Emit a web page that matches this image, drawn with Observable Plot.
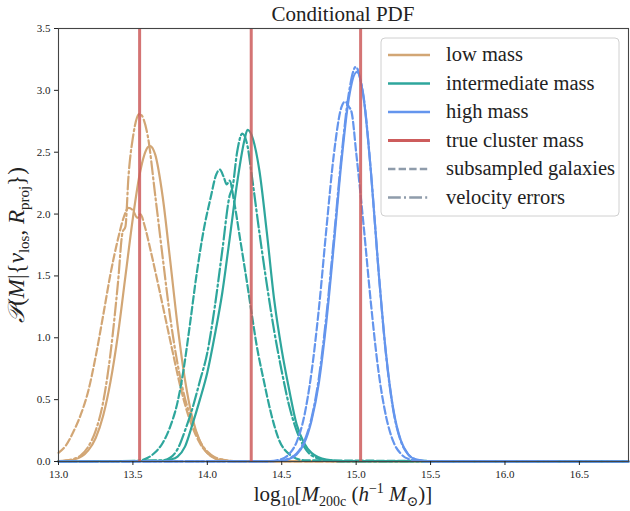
<!DOCTYPE html>
<html>
<head>
<meta charset="utf-8">
<script src="https://cdn.jsdelivr.net/npm/d3@7"></script>
<script src="https://cdn.jsdelivr.net/npm/@observablehq/plot@0.6"></script>
<style>
  html, body { margin: 0; padding: 0; background: white; }
  #chart { width: 630px; height: 511px; }
</style>
</head>
<body>
<div id="chart"></div>
<script>
// ---- data ----
const xTicks = [13.0, 13.5, 14.0, 14.5, 15.0, 15.5, 16.0, 16.5];
const yTicks = [0.0, 0.5, 1.0, 1.5, 2.0, 2.5, 3.0, 3.5];
const trueMass = [13.545, 14.295, 15.03];

const seriesNames = ["low mass", "intermediate mass", "high mass"];
const styleNames = ["true cluster mass", "subsampled galaxies", "velocity errors"];

// low mass
const lowSolid = [[13.0,0.002],[13.1,0.014],[13.2,0.09],[13.25,0.19],[13.3,0.37],[13.35,0.65],[13.4,1.03],[13.45,1.5],[13.5,1.97],[13.55,2.35],[13.6,2.54],[13.615,2.55],[13.65,2.48],[13.7,2.14],[13.75,1.63],[13.8,1.1],[13.85,0.66],[13.9,0.35],[13.95,0.165],[14.0,0.068],[14.05,0.025],[14.1,0.008],[14.2,0.001],[16.83,0]];
const lowDashed = [[13.0,0.07],[13.05,0.13],[13.1,0.24],[13.15,0.38],[13.2,0.57],[13.25,0.85],[13.3,1.18],[13.35,1.52],[13.4,1.8],[13.44,1.98],[13.47,2.05],[13.5,2.03],[13.53,1.97],[13.55,2.0],[13.58,1.9],[13.62,1.7],[13.67,1.43],[13.72,1.15],[13.77,0.87],[13.82,0.6],[13.87,0.38],[13.92,0.22],[13.97,0.11],[14.02,0.05],[14.1,0.015],[14.2,0.002],[16.83,0]];
const lowDashDot = [[13.0,0.003],[13.1,0.02],[13.15,0.05],[13.2,0.12],[13.25,0.25],[13.3,0.48],[13.35,0.88],[13.4,1.45],[13.43,1.85],[13.45,1.9],[13.47,2.3],[13.5,2.62],[13.545,2.81],[13.6,2.63],[13.65,2.15],[13.7,1.65],[13.75,1.17],[13.8,0.79],[13.85,0.51],[13.9,0.32],[13.95,0.165],[14.0,0.08],[14.05,0.035],[14.1,0.015],[14.2,0.003],[16.83,0]];

// intermediate mass
const midSolid = [[13.0,0],[13.7,0.005],[13.75,0.015],[13.8,0.04],[13.85,0.12],[13.9,0.3],[13.95,0.5],[14.0,0.72],[14.05,1.02],[14.1,1.36],[14.15,1.8],[14.2,2.25],[14.25,2.6],[14.27,2.68],[14.3,2.63],[14.35,2.35],[14.4,1.85],[14.45,1.3],[14.5,0.9],[14.55,0.58],[14.6,0.3],[14.65,0.15],[14.7,0.07],[14.8,0.015],[14.9,0.003],[16.83,0]];
const midDashed = [[13.0,0],[13.5,0.001],[13.55,0.008],[13.6,0.03],[13.65,0.075],[13.7,0.15],[13.75,0.28],[13.8,0.48],[13.84,0.74],[13.88,1.08],[13.93,1.53],[13.98,1.9],[14.02,2.12],[14.06,2.32],[14.083,2.36],[14.11,2.3],[14.13,2.24],[14.15,2.27],[14.18,2.1],[14.22,1.8],[14.27,1.42],[14.3,1.18],[14.33,0.95],[14.38,0.65],[14.43,0.38],[14.48,0.18],[14.55,0.06],[14.65,0.01],[16.83,0]];
const midDashDot = [[13.0,0],[13.7,0.01],[13.75,0.03],[13.8,0.1],[13.85,0.25],[13.9,0.43],[13.95,0.65],[14.0,0.88],[14.05,1.25],[14.1,1.7],[14.15,2.15],[14.17,2.22],[14.2,2.5],[14.235,2.65],[14.27,2.55],[14.3,2.3],[14.35,1.85],[14.4,1.43],[14.45,1.05],[14.5,0.73],[14.55,0.45],[14.6,0.25],[14.65,0.12],[14.7,0.05],[14.8,0.01],[14.9,0.001],[16.83,0]];

// high mass
const highSolid = [[13.0,0],[14.4,0.0004],[14.5,0.006],[14.55,0.02],[14.6,0.057],[14.65,0.145],[14.7,0.33],[14.75,0.64],[14.8,1.13],[14.85,1.75],[14.9,2.41],[14.95,2.93],[15.005,3.15],[15.05,2.94],[15.1,2.33],[15.15,1.55],[15.2,0.88],[15.25,0.42],[15.3,0.17],[15.35,0.058],[15.4,0.017],[15.5,0.001],[16.83,0]];
const highDashed = [[13.0,0],[14.4,0.0015],[14.5,0.02],[14.55,0.06],[14.6,0.157],[14.65,0.36],[14.7,0.72],[14.75,1.24],[14.8,1.88],[14.85,2.48],[14.9,2.86],[14.926,2.91],[14.95,2.87],[14.97,2.82],[15.0,2.5],[15.05,1.91],[15.1,1.27],[15.15,0.73],[15.2,0.37],[15.25,0.16],[15.3,0.063],[15.35,0.021],[15.45,0.001],[16.83,0]];
const highDashDot = [[13.0,0],[14.4,0.001],[14.5,0.008],[14.55,0.025],[14.6,0.065],[14.65,0.16],[14.7,0.35],[14.75,0.68],[14.8,1.18],[14.85,1.8],[14.9,2.45],[14.95,2.97],[14.998,3.19],[15.03,3.08],[15.05,2.95],[15.1,2.33],[15.15,1.55],[15.2,0.87],[15.25,0.41],[15.3,0.165],[15.35,0.056],[15.4,0.017],[15.5,0.001],[16.83,0]];

// ---- styling ----
const colors = {low: "#d2a675", mid: "#2ea69c", high: "#6495ed", truth: "#cd5c5c", legendGray: "#8f9cab"};
const dashed = "7.4,3.2";
const dashdot = "12.8,3.2,2,3.2";

const curves = [
  {data: lowSolid, stroke: colors.low, dash: null},
  {data: lowDashed, stroke: colors.low, dash: dashed},
  {data: lowDashDot, stroke: colors.low, dash: dashdot},
  {data: midSolid, stroke: colors.mid, dash: null},
  {data: midDashed, stroke: colors.mid, dash: dashed},
  {data: midDashDot, stroke: colors.mid, dash: dashdot},
  {data: highSolid, stroke: colors.high, dash: null},
  {data: highDashed, stroke: colors.high, dash: dashed},
  {data: highDashDot, stroke: colors.high, dash: dashdot}
];

const serif = "'Liberation Serif', 'DejaVu Serif', serif";

const chart = Plot.plot({
  width: 630,
  height: 511,
  marginTop: 28,
  marginBottom: 50,
  marginLeft: 58,
  marginRight: 2,
  style: {fontFamily: serif, fontSize: "11px", background: "white", color: "#222"},
  x: {domain: [13, 16.83]},
  y: {domain: [0, 3.5]},
  marks: [
    ...curves.map(c => Plot.line(c.data, {
      x: d => d[0], y: d => d[1],
      stroke: c.stroke, strokeWidth: 2.2, strokeDasharray: c.dash,
      curve: "monotone-x"
    })),
    Plot.ruleX(trueMass, {stroke: colors.truth, strokeWidth: 3, strokeOpacity: 0.85}),
    Plot.frame({stroke: "#444", strokeWidth: 1.1}),
    Plot.axisX({ticks: xTicks, tickFormat: ".1f", tickSize: 4, tickPadding: 5, label: null, fontSize: 11}),
    Plot.axisY({ticks: yTicks, tickFormat: ".1f", tickSize: 4, tickPadding: 4, label: null, fontSize: 11})
  ]
});

document.getElementById("chart").appendChild(chart);

const svg = d3.select(chart);

// title
svg.append("text")
  .attr("x", 343).attr("y", 21)
  .attr("text-anchor", "middle")
  .attr("font-family", serif).attr("font-size", 21).attr("fill", "#222")
  .text("Conditional PDF");

// x label
const xl = svg.append("text")
  .attr("x", 343).attr("y", 501)
  .attr("text-anchor", "middle")
  .attr("font-family", serif).attr("font-size", 21).attr("fill", "#222");
xl.append("tspan").text("log");
xl.append("tspan").attr("dy", 5).attr("font-size", 14).text("10");
xl.append("tspan").attr("dy", -5).text("[");
xl.append("tspan").attr("font-style", "italic").text("M");
xl.append("tspan").attr("dy", 5).attr("font-size", 14).text("200c");
xl.append("tspan").attr("dy", -5).text(" (");
xl.append("tspan").attr("font-style", "italic").text("h");
xl.append("tspan").attr("dy", -8).attr("font-size", 14).text("−1");
xl.append("tspan").attr("dy", 8).text(" ");
xl.append("tspan").attr("font-style", "italic").text("M");
xl.append("tspan").attr("dy", 5).attr("font-size", 14).text("⊙");
xl.append("tspan").attr("dy", -5).text(")]");

// y label
const yl = svg.append("text")
  .attr("transform", "translate(24,245) rotate(-90)")
  .attr("text-anchor", "middle")
  .attr("font-family", serif).attr("font-size", 23).attr("fill", "#222");
yl.append("tspan").attr("font-style", "italic").text("𝒫");
yl.append("tspan").text("(");
yl.append("tspan").attr("font-style", "italic").text("M");
yl.append("tspan").text("|{");
yl.append("tspan").attr("font-style", "italic").text("v");
yl.append("tspan").attr("dy", 5).attr("font-size", 15).text("los");
yl.append("tspan").attr("dy", -5).text(", ");
yl.append("tspan").attr("font-style", "italic").text("R");
yl.append("tspan").attr("dy", 5).attr("font-size", 15).text("proj");
yl.append("tspan").attr("dy", -5).text("})");

// legend
const lg = svg.append("g");
lg.append("rect")
  .attr("x", 381).attr("y", 38).attr("width", 238).attr("height", 178).attr("rx", 4)
  .attr("fill", "white").attr("fill-opacity", 0.85)
  .attr("stroke", "#d0d0d0").attr("stroke-width", 1);
const legendItems = [
  {label: seriesNames[0], stroke: colors.low, dash: null, width: 2.5},
  {label: seriesNames[1], stroke: colors.mid, dash: null, width: 2.5},
  {label: seriesNames[2], stroke: colors.high, dash: null, width: 2.5},
  {label: styleNames[0], stroke: colors.truth, dash: null, width: 3},
  {label: styleNames[1], stroke: colors.legendGray, dash: dashed, width: 2.5},
  {label: styleNames[2], stroke: colors.legendGray, dash: dashdot, width: 2.5}
];
legendItems.forEach((it, i) => {
  const y = 55 + i * 28.5;
  lg.append("line")
    .attr("x1", 388).attr("x2", 430).attr("y1", y).attr("y2", y)
    .attr("stroke", it.stroke).attr("stroke-width", it.width)
    .attr("stroke-dasharray", it.dash);
  lg.append("text")
    .attr("x", 446).attr("y", y + 6)
    .attr("text-anchor", "start")
    .attr("font-family", serif).attr("font-size", 20.5).attr("fill", "#222")
    .text(it.label);
});
</script>
</body>
</html>
